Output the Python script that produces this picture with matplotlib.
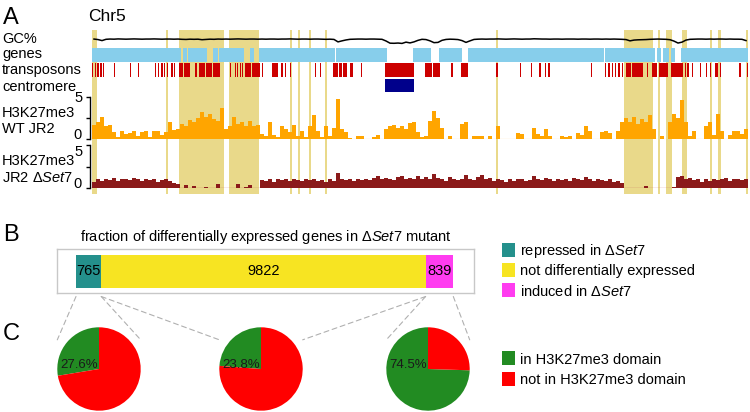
import numpy as np
import matplotlib
matplotlib.use('Agg')
import matplotlib.pyplot as plt
from matplotlib.patches import Rectangle, ConnectionPatch
from matplotlib.transforms import blended_transform_factory

plt.rcParams['font.family'] = ['Liberation Sans', 'DejaVu Sans']
plt.rcParams['mathtext.fontset'] = 'custom'
plt.rcParams['mathtext.rm'] = 'Liberation Sans'
plt.rcParams['mathtext.it'] = 'Liberation Sans:italic'

# ---------------- data ----------------
chrom_len = 6.56   # Mb
bin_size = 0.04    # Mb

gc_percent = [
    52.0, 51.6, 50.8, 51.8, 52.0, 51.9, 52.1, 52.0, 51.9, 52.0, 52.1, 52.0, 51.9, 52.0, 52.0, 52.1, 52.0, 51.9, 52.0, 52.0,
    51.9, 52.0, 51.8, 51.7, 51.9, 51.8, 51.9, 51.5, 51.7, 51.9, 51.8, 52.0, 51.9, 52.0, 51.9, 52.0, 52.1, 52.0, 51.9, 52.0,
    52.0, 51.9, 52.0, 51.9, 52.0, 52.0, 51.9, 52.0, 52.0, 52.1, 52.0, 51.9, 52.0, 52.0, 51.9, 52.0, 52.0, 51.9, 51.8, 51.9,
    51.7, 49.8, 50.6, 51.3, 51.8, 51.9, 52.0, 52.0, 51.9, 52.0, 52.0, 51.9, 51.8, 50.5, 48.8, 48.7, 48.9, 48.6, 49.6, 49.0,
    49.8, 51.0, 51.8, 51.6, 50.6, 49.2, 49.4, 51.0, 51.7, 51.9, 51.8, 51.6, 50.8, 49.4, 50.6, 51.7, 51.9, 52.0, 51.9, 52.0,
    52.0, 52.1, 52.0, 51.9, 52.0, 52.1, 52.0, 51.9, 52.0, 52.0, 52.2, 52.1, 52.0, 52.0, 51.9, 52.0, 52.0, 51.9, 52.0, 52.0,
    52.0, 51.9, 52.0, 52.0, 51.9, 52.0, 52.0, 51.9, 52.0, 51.9, 52.0, 51.9, 51.8, 51.6, 50.6, 51.2, 51.4, 51.5, 51.6, 51.8,
    51.9, 52.0, 51.9, 51.8, 51.5, 50.4, 48.9, 49.6, 51.2, 51.8, 51.9, 52.0, 52.0, 51.9, 52.0, 51.9, 52.0, 52.0, 51.9, 52.0,
    51.9, 51.9, 51.8, 50.8]

wt_k27 = [
    1.7, 2.0, 2.6, 1.6, 1.7, 0.8, 0.2, 0.9, 0.6, 0.7, 0.9, 0.3, 0.8, 1.0, 0.2, 0.9, 1.0, 0.5, 0.8, 2.0,
    1.1, 1.2, 1.8, 1.5, 2.3, 2.0, 2.5, 3.2, 2.6, 3.0, 2.4, 2.2, 3.7, 1.2, 1.5, 2.6, 1.8, 2.0, 1.6, 2.2,
    1.5, 1.7, 0.6, 0.3, 2.0, 0.5, 0.2, 1.5, 1.2, 0.8, 1.7, 0.4, 1.0, 0.2, 1.5, 2.8, 1.0, 0.2, 1.5, 0.3,
    1.3, 4.8, 1.2, 0.8, 0.1, 0.0, 0.3, 0.4, 0.0, 0.0, 0.2, 0.5, 0.0, 1.2, 1.5, 1.7, 1.3, 1.6, 1.2, 1.9,
    2.0, 0.8, 0.2, 0.3, 2.2, 3.3, 2.5, 1.3, 0.0, 0.4, 0.0, 0.0, 1.8, 2.0, 0.0, 0.4, 0.3, 0.4, 0.0, 0.4,
    0.0, 1.5, 0.0, 0.0, 0.0, 0.0, 0.7, 0.6, 0.0, 0.0, 1.3, 0.6, 0.3, 1.2, 0.3, 0.0, 0.0, 0.4, 0.2, 0.3,
    0.0, 0.7, 0.5, 1.5, 1.0, 0.0, 0.0, 0.8, 0.9, 0.7, 0.0, 1.0, 2.0, 2.5, 2.0, 2.6, 1.8, 2.4, 2.0, 2.8,
    1.2, 0.0, 0.4, 0.0, 2.0, 3.0, 2.5, 4.7, 2.0, 0.4, 1.0, 0.0, 0.0, 1.5, 2.0, 0.5, 3.0, 1.0, 0.0, 0.5,
    0.9, 1.0, 0.6, 1.2]

set7_k27 = [
    0.7, 1.0, 0.8, 1.1, 0.9, 1.2, 0.8, 1.0, 1.1, 0.9, 1.2, 1.0, 0.8, 1.1, 0.9, 1.0, 0.7, 0.9, 1.0, 0.8, 0.6, 0.5,
    0.05, 0.3, 0.05, 0.2, 0.05, 0.05, 0.1, 0.05, 0.05, 0.5, 0.05, 0.05,
    0.05, 0.05, 0.5, 0.05, 0.1, 0.3, 0.05, 0.05,
    0.9, 0.8, 1.0, 0.7, 1.0, 0.9, 1.1, 0.8, 1.0, 0.9,
    0.8, 1.0, 0.9, 1.1, 0.8, 0.9, 0.7, 1.0, 0.8, 1.7,
    1.1, 0.9, 1.0, 0.8, 1.0, 0.9, 1.1, 0.9, 1.2, 1.4,
    1.0, 1.2, 1.1, 0.9, 1.3, 1.4, 1.0, 1.2, 1.0, 1.4,
    1.1, 1.3, 1.0, 1.6, 1.2, 1.0, 0.8, 1.3, 1.1, 0.9,
    1.0, 1.5, 1.1, 0.9, 1.3, 1.5, 1.0, 1.2, 0.8, 1.0,
    0.9, 0.7, 1.0, 0.8, 1.1, 1.0, 0.8, 0.9, 1.4, 1.0,
    0.9, 1.2, 1.0, 0.8, 1.1, 0.9, 1.0, 0.8, 1.2, 1.0,
    0.9, 1.3, 1.0, 0.8, 1.1, 0.9, 0.8, 1.0, 0.7, 0.8,
    0.6,
    0.05, 0.05, 0.05, 0.05, 0.05, 0.2, 0.05, 0.05, 0.05, 0.05, 0.05, 0.05, 0.1,
    1.3, 1.4, 1.0, 1.2, 0.9, 1.1, 0.7, 1.0, 0.8, 1.1, 0.9, 1.0, 1.2, 0.8, 1.0, 1.1, 0.9, 1.0]

genes = [(0.000, 0.885), (0.905, 0.945), (0.960, 1.150), (1.205, 1.255), (1.270, 1.520),
         (1.575, 1.615), (1.665, 2.428), (2.440, 2.945), (3.210, 3.385), (3.470, 3.695),
         (3.755, 5.123), (5.133, 5.625), (5.645, 5.693), (5.705, 5.767), (5.787, 5.827),
         (5.887, 6.560)]

transposons = [
    (0.000, 0.013), (0.027, 0.040), (0.053, 0.066), (0.083, 0.096), (0.110, 0.123),
    (0.220, 0.233), (0.377, 0.390), (0.460, 0.473), (0.627, 0.640), (0.660, 0.673),
    (0.693, 0.706), (0.720, 0.733), (0.750, 0.763), (0.793, 0.806), (0.820, 0.833),
    (0.867, 0.910), (0.918, 0.977), (1.033, 1.046), (1.067, 1.130), (1.138, 1.200),
    (1.208, 1.277), (1.377, 1.390), (1.427, 1.440), (1.450, 1.463), (1.477, 1.490),
    (1.500, 1.513), (1.533, 1.590), (1.598, 1.677), (1.700, 1.713), (1.800, 1.825),
    (1.833, 1.860), (1.893, 1.906), (1.927, 1.940), (1.977, 1.990), (2.227, 2.240),
    (2.277, 2.290), (2.413, 2.463), (2.473, 2.497), (2.513, 2.547), (2.580, 2.607),
    (2.687, 2.700), (2.933, 3.220), (3.333, 3.397), (3.407, 3.480), (3.593, 3.606),
    (3.687, 3.763), (4.043, 4.056), (4.277, 4.290), (4.387, 4.400), (4.473, 4.487),
    (4.527, 4.540), (4.563, 4.576), (4.987, 5.000), (5.130, 5.143), (5.163, 5.176),
    (5.197, 5.210), (5.230, 5.243), (5.263, 5.276), (5.297, 5.313), (5.340, 5.390),
    (5.398, 5.513), (5.547, 5.563), (5.597, 5.647), (5.673, 5.763), (5.787, 5.907),
    (5.930, 5.943), (5.953, 5.966), (5.997, 6.010), (6.080, 6.093), (6.140, 6.153),
    (6.180, 6.193), (6.230, 6.263), (6.277, 6.290), (6.473, 6.486), (6.547, 6.560)]

centromere = [(2.933, 3.220)]

k27_domains = [(0.000, 0.050), (0.740, 0.760), (0.870, 1.320), (1.370, 1.665),
               (1.980, 2.000), (2.060, 2.080), (2.170, 2.190), (2.330, 2.350),
               (4.040, 4.060), (5.320, 5.610), (5.655, 5.675), (5.740, 5.800),
               (5.900, 5.950), (6.175, 6.195), (6.255, 6.290), (6.540, 6.560)]

deg_labels = ['repressed in Δ$\\mathit{Set7}$', 'not differentially expressed',
              'induced in Δ$\\mathit{Set7}$']
deg_counts = [765, 9822, 839]
deg_colors = ['#24908c', '#f7e422', '#ff3cf0']

pct_in_domain = [27.6, 23.8, 74.5]
domain_labels = ['in H3K27me3 domain', 'not in H3K27me3 domain']
domain_colors = ['#228b22', '#ff0000']

assert len(gc_percent) == len(wt_k27) == len(set7_k27) == 164

# ---------------- layout helpers ----------------
W, H = 750, 412
fig = plt.figure(figsize=(W / 100, H / 100), dpi=100)


def add_ax(x0, y0, x1, y1):
    return fig.add_axes([x0 / W, 1 - y1 / H, (x1 - x0) / W, (y1 - y0) / H])


ov = add_ax(0, 0, W, H)
ov.set_xlim(0, W)
ov.set_ylim(H, 0)
ov.axis('off')

FS = 10.5
XL = (-0.02, chrom_len)

# ---------------- panel A ----------------
bg = add_ax(90, 30, 748, 194)
bg.set_xlim(*XL)
bg.set_ylim(194, 30)
bg.axis('off')
for s, e in k27_domains:
    bg.axvspan(s, e, color='#e9d98a', lw=0, zorder=0)
bg.broken_barh([(s, e - s) for s, e in genes], (48, 13.5), facecolors='#87ceeb', linewidth=0, zorder=2)
bg.broken_barh([(s, e - s) for s, e in transposons], (63, 14), facecolors='#cc0000', linewidth=0, zorder=2)
bg.broken_barh([(s, e - s) for s, e in centromere], (79, 13), facecolors='#00008b', linewidth=0, zorder=2)

centers = np.arange(len(gc_percent)) * bin_size + bin_size / 2
lefts = np.arange(len(wt_k27)) * bin_size

gca = add_ax(90, 33, 748, 46)
gca.set_xlim(*XL)
gca.set_ylim(46.6, 56.7)
gca.axis('off')
gca.plot(centers, gc_percent, color='black', lw=1.1)


def track(ax, values, color, base_color):
    ax.set_xlim(*XL)
    ax.set_ylim(0, 5)
    ax.set_facecolor('none')
    ax.axhline(0, color=base_color, lw=0.9, zorder=1)
    ax.bar(lefts, values, width=bin_size, align='edge', color=color, linewidth=0, zorder=2)
    for sp in ['top', 'right', 'bottom']:
        ax.spines[sp].set_visible(False)
    ax.spines['left'].set_linewidth(1)
    ax.set_xticks([])
    ax.set_yticks([0, 2.5, 5])
    ax.set_yticklabels(['0', '', '5'])
    ax.tick_params(axis='y', direction='out', length=3.2, width=1, pad=2.5, labelsize=FS)
    labs = ax.get_yticklabels()
    labs[0].set_va('baseline')
    return labs


wt = add_ax(90, 97, 748, 139)
track(wt, wt_k27, '#ffa500', '#ffdca0')
mt = add_ax(90, 145, 748, 188)
mlabs = track(mt, set7_k27, '#8b1a1a', '#c05050')
mlabs[2].set_va('top')

ov.text(3, 23.5, 'A', fontsize=17, va='baseline')
ov.text(88, 20.7, 'Chr5', fontsize=12.5, va='baseline')
for txt, yb in [('GC%', 43), ('genes', 57.5), ('transposons', 74), ('centromere', 91),
                ('H3K27me3', 116.5), ('WT JR2', 133), ('H3K27me3', 165),
                ('JR2 Δ$\\mathit{Set7}$', 182)]:
    ov.text(2, yb, txt, fontsize=FS, va='baseline')

# ---------------- panel B ----------------
ov.text(3, 240.5, 'B', fontsize=17, va='baseline')
ov.text(266, 240.7, 'fraction of differentially expressed genes in Δ$\\mathit{Set7}$ mutant',
        fontsize=FS, ha='center', va='baseline')

total = sum(deg_counts)
bx = add_ax(57, 249, 474, 293)
scale = total / 377.3
bx.set_xlim(-19 * scale, total + 20.7 * scale)
bx.set_ylim(0, 1)
left = 0
edges = []
for c, col in zip(deg_counts, deg_colors):
    cont = bx.barh(0.495, c, left=left, height=0.75, color=col, linewidth=0)
    bx.bar_label(cont, labels=[str(c)], label_type='center', fontsize=FS)
    edges.append((left, left + c))
    left += c
bx.set_xticks([])
bx.set_yticks([])
for sp in bx.spines.values():
    sp.set_color('#c8c8c8')
    sp.set_linewidth(1)

for i, (lab, col) in enumerate(zip(deg_labels, deg_colors)):
    yc = 249.7 + 20.3 * i
    ov.add_patch(Rectangle((501.7, yc - 7), 13.3, 14, facecolor=col, linewidth=0))
    ov.text(520.5, yc + 5.3, lab, fontsize=FS, va='baseline')

# ---------------- panel C ----------------
ov.text(3, 340, 'C', fontsize=17, va='baseline')
pie_cx = [99, 261, 428]
pie_cy, pie_r = 369, 41.7
blend = blended_transform_factory(bx.transData, bx.transAxes)
for i, p in enumerate(pct_in_domain):
    pa = add_ax(pie_cx[i] - pie_r, pie_cy - pie_r, pie_cx[i] + pie_r, pie_cy + pie_r)
    pa.pie([p, 100 - p], colors=domain_colors, startangle=90, counterclock=True,
           wedgeprops=dict(linewidth=0))
    pa.set_xlim(-1, 1)
    pa.set_ylim(-1, 1)
    pa.text(-0.03, 0.03, f'{p}%', ha='right', va='baseline', fontsize=9.5, color='#1a1a1a')
    for xa, xb in [(edges[i][0], -1), (edges[i][1], 1)]:
        con = ConnectionPatch(xyA=(xa, -0.08), coordsA=blend, xyB=(xb, 0.7), coordsB=pa.transData,
                              color='#b0b0b0', lw=0.8, linestyle=(0, (4.5, 3.2)))
        fig.add_artist(con)

for i, (lab, col) in enumerate(zip(domain_labels, domain_colors)):
    yc = 358 + 20.8 * i
    ov.add_patch(Rectangle((501.7, yc - 7), 13.3, 14, facecolor=col, linewidth=0))
    ov.text(520.5, yc + 5.5, lab, fontsize=FS, va='baseline')

fig.savefig('out.png', dpi=100)
